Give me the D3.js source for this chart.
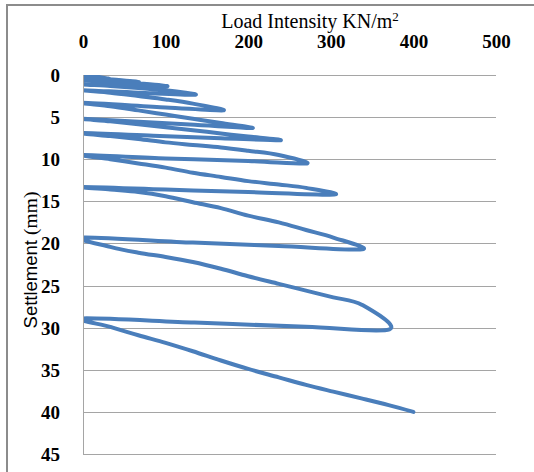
<!DOCTYPE html>
<meta charset="UTF-8">
<script src="https://cdn.jsdelivr.net/npm/d3@7"></script>

<style>
 body { margin:0; background:#fff; }
 #chart text { fill:#000; }
 .tick-label { font-family:"Liberation Serif", serif; font-weight:bold; font-size:19px; }
 .x-title { font-family:"Liberation Serif", serif; font-size:20px; }
 .y-title { font-family:"Liberation Sans", sans-serif; font-size:18.5px; }
 .grid line { stroke:#a5a5a5; stroke-width:1px; shape-rendering:crispEdges; }
 #curve { fill:none; stroke:#4a7ebb; stroke-width:4px; stroke-linecap:round; stroke-linejoin:round; }
</style>

<svg id="chart" width="534" height="472"></svg>

<script>
 // Plate load test, read point by point in the order of the test
 // load intensity (kN/m2)
 var load = [0, 33, 0,
             33, 67, 0,
             33, 67, 100, 0,
             33, 67, 100, 136, 67, 0,
             33, 67, 100, 133, 170, 100, 0,
             33, 67, 100, 133, 167, 205, 135, 0,
             33, 67, 100, 133, 167, 200, 239, 167, 85, 0,
             33, 67, 100, 133, 167, 200, 237, 271, 200, 100, 0,
             33, 67, 100, 133, 167, 200, 237, 270, 304, 200, 100, 0,
             33, 67, 100, 133, 167, 200, 237, 270, 303, 338, 237, 133, 0,
             33, 67, 100, 133, 167, 200, 237, 270, 303, 338, 371, 270, 135, 0,
             33, 67, 100, 133, 167, 200, 237, 270, 303, 337, 370, 400];
 // settlement (mm)
 var settlement = [0, 0.4, 0.25,
                   0.5, 0.85, 0.6,
                   0.8, 1.0, 1.35, 1.1,
                   1.3, 1.55, 1.8, 2.35, 2.1, 1.8,
                   2.1, 2.5, 2.9, 3.4, 4.2, 3.85, 3.3,
                   3.7, 4.2, 4.7, 5.2, 5.7, 6.3, 5.9, 5.2,
                   5.5, 5.85, 6.2, 6.55, 6.95, 7.3, 7.75, 7.5, 7.2, 6.9,
                   7.25, 7.6, 8.0, 8.3, 8.6, 9.0, 9.5, 10.5, 10.2, 9.9, 9.5,
                   10.0, 10.5, 11.0, 11.6, 12.1, 12.6, 13.0, 13.4, 14.2, 13.9, 13.6, 13.3,
                   13.6, 13.9, 14.4, 15.1, 15.8, 16.7, 17.5, 18.4, 19.3, 20.7, 20.3, 19.9, 19.3,
                   20.4, 21.1, 21.6, 22.2, 23.0, 23.9, 24.8, 25.6, 26.4, 27.3, 30.2, 29.9, 29.4, 28.9,
                   29.9, 30.9, 31.8, 32.8, 33.9, 34.9, 35.9, 36.8, 37.6, 38.4, 39.2, 40.0];

 var xTicks = [0, 100, 200, 300, 400, 500];
 var yTicks = [0, 5, 10, 15, 20, 25, 30, 35, 40, 45];

 var svg = d3.select("#chart");

 // chart border (right and bottom edges fall outside the picture)
 svg.append("rect")
    .attr("x", 7).attr("y", 5)
    .attr("width", 540).attr("height", 480)
    .attr("fill", "#fff")
    .attr("stroke", "#8c8c8c")
    .attr("stroke-width", 2);

 var x = d3.scaleLinear().domain([0, 500]).range([83, 496]);
 var y = d3.scaleLinear().domain([0, 45]).range([75, 454]);

 // horizontal gridlines
 svg.append("g").attr("class", "grid")
    .selectAll("line").data(yTicks).enter().append("line")
    .attr("x1", x(0)).attr("x2", x(500))
    .attr("y1", function (d) { return Math.round(y(d)) + 0.5; })
    .attr("y2", function (d) { return Math.round(y(d)) + 0.5; });

 // the curve, kept inside the plot area
 svg.append("clipPath").attr("id", "plotclip")
    .append("rect")
    .attr("x", x(0)).attr("y", y(0))
    .attr("width", x(500) - x(0)).attr("height", y(45) - y(0));

 var line = d3.line()
     .x(function (i) { return x(load[i]); })
     .y(function (i) { return y(settlement[i]); })
     .curve(d3.curveCatmullRom.alpha(0));

 svg.append("path").attr("id", "curve")
    .attr("clip-path", "url(#plotclip)")
    .attr("d", line(d3.range(load.length)));

 // left axis line
 svg.append("g").attr("class", "grid")
    .append("line")
    .attr("x1", Math.round(x(0)) + 0.5).attr("x2", Math.round(x(0)) + 0.5)
    .attr("y1", y(0)).attr("y2", y(45));

 // tick labels: load on top, settlement on the left
 var xAxis = svg.append("g")
    .attr("transform", "translate(0,48)")
    .call(d3.axisTop(x).tickValues(xTicks).tickSize(0).tickPadding(0));
 var yAxis = svg.append("g")
    .attr("transform", "translate(60,0)")
    .call(d3.axisLeft(y).tickValues(yTicks).tickSize(0).tickPadding(0));
 [xAxis, yAxis].forEach(function (a) {
     a.select(".domain").remove();
     a.selectAll("text").attr("class", "tick-label").attr("fill", "#000");
 });
 yAxis.selectAll("text").attr("dy", "0.34em");

 // axis titles
 var xt = svg.append("text").attr("class", "x-title")
    .attr("x", 310).attr("y", 28).attr("text-anchor", "middle")
    .text("Load Intensity KN/m");
 xt.append("tspan").attr("font-size", "13px").attr("dy", "-7").text("2");

 var yt = svg.append("text").attr("class", "y-title")
    .attr("transform", "translate(37,260) rotate(-90)")
    .attr("text-anchor", "middle");
 yt.append("tspan").text("Settlement ");
 yt.append("tspan").attr("font-family", "Liberation Serif, serif").attr("font-size", "19.5px").text("(mm)");
</script>
